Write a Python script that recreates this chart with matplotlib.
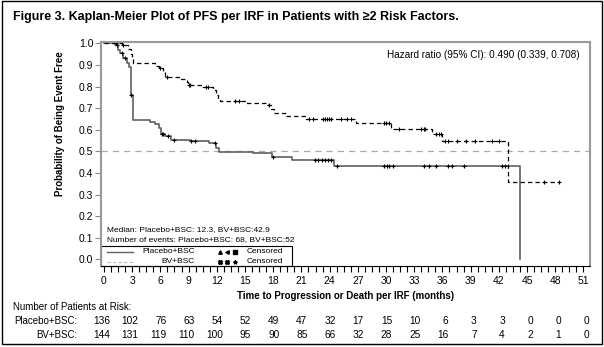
import numpy as np
import matplotlib.pyplot as plt
from matplotlib.patches import Rectangle
from matplotlib.ticker import MultipleLocator
from matplotlib.transforms import blended_transform_factory

plt.rcParams['font.family'] = ['Liberation Sans', 'DejaVu Sans']

# Placebo+BSC : temps des evenements (mois) et survie apres chaque marche
pla_t = [0, 1.2, 1.5, 1.65, 2.05, 2.45, 2.7, 2.85, 2.9, 3.05, 4.9, 5.4, 5.9, 6.1,
         6.5, 7.1, 9.2, 11.2, 11.9, 12.2, 15.8, 17.9, 20.0, 24.5, 44.3]
pla_s = [1.0, 0.99, 0.97, 0.954, 0.93, 0.907, 0.89, 0.83, 0.76, 0.645, 0.637, 0.626,
         0.606, 0.58, 0.571, 0.552, 0.548, 0.537, 0.514, 0.498, 0.49, 0.472, 0.458,
         0.433, 0.0]
pla_cens = [1.4, 1.9, 2.2, 2.92, 6.2, 6.3, 6.8, 7.4, 9.3, 9.7, 11.8, 18.0, 22.4, 22.8,
            23.2, 23.5, 23.8, 24.2, 24.8, 29.8, 30.1, 30.3, 30.7, 34.0, 34.6, 35.3,
            36.6, 37.0, 38.3, 42.3, 42.7]

# BV+BSC
bv_t = [0, 1.9, 2.6, 2.9, 3.0, 3.1, 5.4, 5.9, 6.3, 6.5, 8.1, 8.8, 8.9, 10.5, 11.6,
        11.9, 12.1, 12.3, 15.1, 17.4, 17.8, 18.1, 19.4, 21.5, 26.8, 30.5, 34.9, 36.0,
        43.0]
bv_s = [1.0, 0.99, 0.975, 0.95, 0.93, 0.907, 0.896, 0.884, 0.869, 0.843, 0.835, 0.822,
        0.807, 0.796, 0.784, 0.761, 0.745, 0.734, 0.725, 0.714, 0.694, 0.676, 0.663,
        0.648, 0.63, 0.603, 0.579, 0.548, 0.359]
bv_fin = 48.4
bv_cens = [1.3, 2.0, 6.0, 6.7, 9.0, 9.2, 10.8, 11.1, 13.9, 14.4, 17.6, 21.8, 22.2, 23.3,
           23.5, 23.7, 23.9, 24.1, 25.2, 25.9, 26.3, 29.8, 30.0, 30.3, 31.4, 33.7, 34.0,
           34.2, 35.3, 35.6, 35.9, 36.3, 36.6, 37.6, 38.5, 39.5, 41.3, 42.0, 46.8, 48.4]

# patients a risque
mois = list(range(0, 52, 3))
risque_pla = [136, 102, 76, 63, 54, 52, 49, 47, 32, 17, 15, 10, 6, 3, 3, 0, 0, 0]
risque_bv = [144, 131, 119, 110, 100, 95, 90, 85, 66, 32, 28, 25, 16, 7, 4, 2, 1, 0]


def survie(t_pas, s_pas, t):
    i = np.searchsorted(t_pas, t, side='right') - 1
    return np.array(s_pas)[i]


fig = plt.figure(figsize=(6.04, 3.47), dpi=100)
ax = fig.add_axes([0.1672, 0.2334, 0.8096, 0.6455])

ax.axhline(0.5, color='#aaaaaa', lw=0.9, ls=(0, (5, 4)))

ax.step(pla_t, pla_s, where='post', color='#606060', lw=1.2)
ax.step(bv_t + [bv_fin], bv_s + [bv_s[-1]], where='post', color='black', lw=0.9,
        ls=(0, (3.5, 2.5)))
ax.plot(pla_cens, survie(pla_t, pla_s, pla_cens), '+', color='black', ms=3, mew=0.8)
ax.plot(bv_cens, survie(bv_t, bv_s, bv_cens), '+', color='black', ms=3, mew=0.8)

ax.set_xlim(-0.32, 51.7)
ax.set_ylim(-0.031, 1.006)
ax.set_xticks(mois)
ax.xaxis.set_minor_locator(MultipleLocator(0.75))
ax.set_yticks(np.arange(0, 1.01, 0.1))
ax.set_yticklabels(['%.1f' % v for v in np.arange(0, 1.01, 0.1)])
ax.tick_params(axis='x', which='both', direction='out', length=4, width=0.8, pad=3,
               labelsize=7.5)
ax.tick_params(axis='y', direction='out', length=4, width=0.8, color='#888888', pad=1.5,
               labelsize=7.5)
for cote in ['top', 'left', 'right']:
    ax.spines[cote].set_color('#999999')
    ax.spines[cote].set_linewidth(1.5)
ax.spines['bottom'].set_linewidth(0.8)

ax.set_xlabel('Time to Progression or Death per IRF (months)', fontsize=7, weight='bold')
ax.xaxis.set_label_coords(0.5, -0.11)
ax.set_ylabel('Probability of Being Event Free', fontsize=7, weight='bold')
ax.yaxis.set_label_coords(-0.074, 0.636)

ax.text(0.978, 0.94, 'Hazard ratio (95% CI): 0.490 (0.339, 0.708)', transform=ax.transAxes,
        ha='right', va='center', fontsize=7.2)
ax.text(0.0117, 0.164, 'Median: Placebo+BSC: 12.3, BV+BSC:42.9', transform=ax.transAxes,
        va='center', fontsize=6)
ax.text(0.0117, 0.116, 'Number of events: Placebo+BSC: 68, BV+BSC:52',
        transform=ax.transAxes, va='center', fontsize=6)

# legende
ax.add_patch(Rectangle((0, 0), 0.3906, 0.0893, transform=ax.transAxes, fill=False,
                       ec='black', lw=0.8, clip_on=False))
ax.plot([0.0123, 0.0654], [0.0638, 0.0638], transform=ax.transAxes, color='#606060', lw=1)
ax.plot([0.0123, 0.0654], [0.019, 0.019], transform=ax.transAxes, color='#bbbbbb', lw=0.8,
        ls=(0, (3, 2)))
ax.text(0.1922, 0.0638, 'Placebo+BSC', transform=ax.transAxes, ha='right', va='center',
        fontsize=6)
ax.text(0.1922, 0.019, 'BV+BSC', transform=ax.transAxes, ha='right', va='center',
        fontsize=6)
for x, m in zip([0.2434, 0.2571, 0.2747], ['^', '<', 's']):
    ax.plot(x, 0.0638, m, transform=ax.transAxes, color='black', ms=2.5)
for x, m in zip([0.2434, 0.2571, 0.2747], ['X', 'X', '*']):
    ax.plot(x, 0.019, m, transform=ax.transAxes, color='black', ms=2.8)
ax.text(0.298, 0.0638, 'Censored', transform=ax.transAxes, va='center', fontsize=6)
ax.text(0.298, 0.019, 'Censored', transform=ax.transAxes, va='center', fontsize=6)

# tableau des patients a risque
tr = blended_transform_factory(ax.transData, fig.transFigure)
fig.text(13 / 604, 1 - 307 / 347, 'Number of Patients at Risk:', va='center', fontsize=7)
fig.text(77 / 604, 1 - 321 / 347, 'Placebo+BSC:', ha='right', va='center', fontsize=7)
fig.text(77 / 604, 1 - 335 / 347, 'BV+BSC:', ha='right', va='center', fontsize=7)
for m, a, b in zip(mois, risque_pla, risque_bv):
    ax.text(m + 0.65, 1 - 321 / 347, str(a), transform=tr, ha='right', va='center',
            fontsize=7.3)
    ax.text(m + 0.65, 1 - 335 / 347, str(b), transform=tr, ha='right', va='center',
            fontsize=7.3)

fig.text(13 / 604, 1 - 17 / 347,
         'Figure 3. Kaplan-Meier Plot of PFS per IRF in Patients with \u22652 Risk Factors.',
         va='center', fontsize=9, weight='bold',
         family=['Liberation Sans Narrow', 'Liberation Sans', 'DejaVu Sans'])
fig.add_artist(Rectangle((0.004, 0.009), 0.992, 0.988, transform=fig.transFigure,
                         fill=False, ec='black', lw=1))

fig.savefig('out.png', dpi=100)
